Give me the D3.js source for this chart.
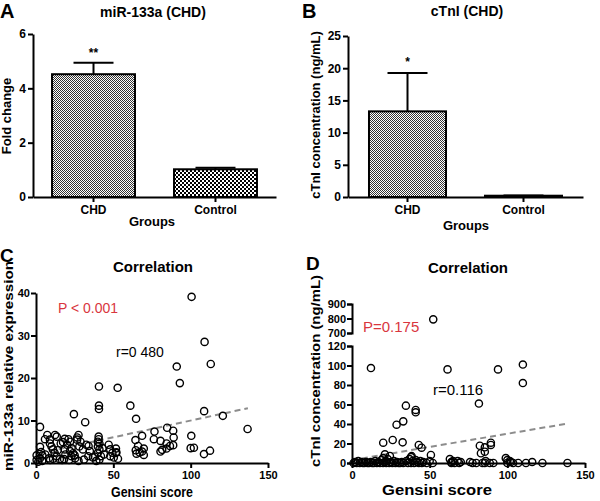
<!DOCTYPE html>
<html><head><meta charset="utf-8">
<script src="https://cdn.jsdelivr.net/npm/d3@7"></script>
<style>
body{margin:0;background:#fff;}
svg{display:block;font-family:"Liberation Sans",Arial,sans-serif;}
</style></head>
<body>
<script>
// ---------- DATA ----------
const groups = ["CHD", "Control"];
const foldChange = [4.52, 1.02];
const foldErr = [0.42, 0.06];
const foldSig = ["**", ""];
const ctni = [13.3, 0.2];
const ctniErr = [5.95, 0.05];
const ctniSig = ["*", ""];
const barTicksA = [0, 2, 4, 6];
const barTicksB = [0, 5, 10, 15, 20, 25];

const gensiniTicks = [0, 50, 100, 150];
const mirTicks = [0, 10, 20, 30, 40];
const ctniLowTicks = [0, 20, 40, 60, 80, 100, 120];
const ctniHighTicks = [700, 800, 900];

// miR-133a vs Gensini (x, y)
const mirGensini = [
[100.6,39.1],[109,28.5],[113,23.3],[91,22.7],[93,18.8],[40.7,18.0],[52.8,17.7],[61,13.5],[40.7,13.5],[40.7,12.7],
[24.5,11.5],[31.8,9.6],[64.7,10.4],[108.7,12.2],[120.8,11.1],[136.8,8.0],[2.6,8.5],
[84.8,8.3],[88.7,7.6],[76.6,7.4],[68.6,6.4],[89,6.0],[100.4,6.4],[76.2,5.6],[80.5,5.2],[84.4,4.6],[88.7,4.2],
[86.6,4.0],[84.4,3.4],[80.5,2.7],[81.6,3.1],[100,3.5],[102.1,3.6],[108.6,2.1],[112.5,2.9],[69.7,3.4],[68.6,2.7],
[69.7,1.9],[64.3,5.4],[64.5,3.0],[65,2.2],[66,4.0],[67,2.5],
[52,2.5],[51.7,3.4],[49.4,2.4],[48,1.6],[50.3,1.3],[47,4.3],[48,3.2],[51.6,2.4],[53,1.0],
[40.5,6.2],[40.5,5.6],[40,5.0],[41,4.6],[40,3.9],[41,3.2],[40,2.4],[42,1.6],[41,0.8],[38,1.5],[36.8,1.3],[43,3.5],[44,2.0],[39,0.5],
[27.5,6.6],[26.6,5.5],[28.8,5.0],[26.6,6.0],[28,3.9],[30.3,3.2],[32.5,4.3],[34.8,2.8],[33.8,1.6],[25.3,1.1],[27.5,0.5],[25,1.8],[31,0.8],[34,4.0],
[21,5.6],[22,5.0],[16,4.6],[20.1,4.3],[18.6,3.2],[22,2.8],[22.9,1.6],[18.6,5.7],[17.5,4.9],[15.4,0.9],[16.9,0.7],[18.2,0.9],[21.4,0.7],[23,3.5],[19,2.0],[24,2.3],
[5.8,5.6],[12.3,6.6],[13.4,6.2],[9,4.6],[10,3.9],[11,3.2],[12,2.4],[13.4,1.6],[7.3,6.6],[9,5.5],[8.4,1.1],[9.1,0.7],[14,3.0],[6,2.0],[11,1.0],
[2.6,3.8],[3.3,2.6],[4.1,1.8],[0.4,1.8],[0.4,0.7],[2.6,1.1],[1.5,0.3],[4,0.5]
];
const mirFit = [[2, 2.26], [137, 12.9]];

// cTnI vs Gensini (x, y)
const ctniGensini = [
[52.3,794],
[12.2,97.4],[61.5,96],[94,96],[110,101],[110,82],[81.7,61],[34.7,58.8],[41,54.4],[41,52],[33,42.7],[28.7,39.3],
[20.1,20.8],[26.2,23.6],[32.6,21.2],[43,18.5],[44.8,15.7],[21.2,8.9],[24.4,7.2],[38.4,7],[50.8,8.2],
[82.3,17.7],[85.5,16.1],[85.5,11.6],[89.4,20.8],[89.4,18.5],[83,10],
[1,0],[2,1],[3,0],[4,2],[5,0],[6,1],[7,0],[8,0],[9,1],[10,0],[11,0],[12,1],[13,0],[14,0],[15,2],[16,0],[17,1],[18,0],
[19,3],[20,0],[20,5],[21,1],[22,2],[22,0],[23,4],[24,0],[25,1],[26,0],[27,2],[28,0],[29,1],[30,0],[31,0],[32,1],[33,0],
[35,2],[36,0],[37,4],[38,6],[38,0],[39,2],[40,0],[41,3],[42,1],[43,0],[44,2],[45,0],[46,1],[48,0],[50,2],[52,0],
[63,4],[64,1],[64,0],[65,2],[66,0],[68,2],[69,0],[70,1],[76,1],[77.6,0],[80,0],[84,0],[85.5,0],[86,2],[88.7,0],[91,0],
[99,5],[100,3],[100,0],[101.6,2],[102.3,1],[103.7,0],[107,0],[112,0],[116,1],[122.6,0],[138.7,0]
];
const ctniFit = [[0, 3], [139, 40.5]];

// ---------- DRAW ----------
const svg = d3.select("body").append("svg").attr("width", 600).attr("height", 501);
const defs = svg.append("defs");
const fine = defs.append("pattern").attr("id","fine").attr("patternUnits","userSpaceOnUse").attr("width",2).attr("height",2);
fine.append("rect").attr("width",2).attr("height",2).attr("fill","#fff");
fine.append("rect").attr("width",1).attr("height",1).attr("fill","#333");
fine.append("rect").attr("x",1).attr("y",1).attr("width",1).attr("height",1).attr("fill","#333");
const coarse = defs.append("pattern").attr("id","coarse").attr("patternUnits","userSpaceOnUse").attr("width",4).attr("height",4);
coarse.append("rect").attr("width",4).attr("height",4).attr("fill","#fff");
coarse.append("rect").attr("width",2).attr("height",2).attr("fill","#000");
coarse.append("rect").attr("x",2).attr("y",2).attr("width",2).attr("height",2).attr("fill","#000");

function styleAxis(g, fs) {
  g.selectAll(".domain").attr("stroke", "#000").attr("stroke-width", 2);
  g.selectAll(".tick line").attr("stroke", "#000").attr("stroke-width", 2);
  g.selectAll(".tick text").attr("fill", "#000").attr("font-size", fs).attr("font-weight", "bold")
    .attr("font-family", '"Liberation Sans",Arial,sans-serif');
}
function txt(x, y, s, o = {}) {
  const t = svg.append("text").attr("x", x).attr("y", y).text(s)
    .attr("font-size", o.size || 13).attr("font-weight", o.weight || "bold")
    .attr("fill", o.fill || "#000").attr("text-anchor", o.anchor || "middle");
  if (o.rotate) t.attr("transform", `rotate(-90,${x},${y})`);
  if (o.len) t.attr("textLength", o.len).attr("lengthAdjust", "spacingAndGlyphs");
  return t;
}

function barPanel(cfg) {
  const x = d3.scaleBand().domain(groups).range(cfg.xr).paddingInner(cfg.pi).paddingOuter(cfg.po);
  const y = d3.scaleLinear().domain(cfg.yd).range([197, cfg.ytop]);
  const g = svg.append("g");
  groups.forEach((k, i) => {
    const cx = x(k) + x.bandwidth() / 2;
    g.append("line").attr("x1", cx).attr("x2", cx).attr("y1", y(cfg.vals[i])).attr("y2", y(cfg.vals[i] + cfg.errs[i]))
      .attr("stroke", "#000").attr("stroke-width", 2);
    g.append("line").attr("x1", cx - 20).attr("x2", cx + 20).attr("y1", y(cfg.vals[i] + cfg.errs[i])).attr("y2", y(cfg.vals[i] + cfg.errs[i]))
      .attr("stroke", "#000").attr("stroke-width", 2);
    if (cfg.sig[i]) {
      g.append("text").attr("x", cx).attr("y", y(cfg.vals[i] + cfg.errs[i]) - cfg.sigOff).text(cfg.sig[i])
        .attr("text-anchor", "middle").attr("font-size", 12).attr("font-weight", "bold");
    }
  });
  g.selectAll("rect.bar").data(cfg.vals).join("rect").attr("class", "bar")
    .attr("x", (d, i) => x(groups[i])).attr("width", x.bandwidth())
    .attr("y", d => y(d)).attr("height", d => 197 - y(d))
    .attr("fill", (d, i) => `url(#${cfg.pat[i]})`).attr("stroke", "#000").attr("stroke-width", 2);
  const ya = svg.append("g").attr("transform", `translate(${cfg.xr[0]},0)`)
    .call(d3.axisLeft(y).tickValues(cfg.ticks).tickSize(5).tickSizeOuter(0).tickPadding(2).tickFormat(d3.format("d")));
  styleAxis(ya, 12);
  const xa = svg.append("g").attr("transform", "translate(0,197)")
    .call(d3.axisBottom(x).tickSize(5).tickSizeOuter(0).tickPadding(3));
  styleAxis(xa, 12);
}

barPanel({xr: [33, 276], pi: 0.32, po: 0.156, yd: [0, 6], ytop: 34, vals: foldChange, errs: foldErr,
  sig: foldSig, sigOff: 6, pat: ["fine", "coarse"], ticks: barTicksA});
barPanel({xr: [348, 583], pi: 0.336, po: 0.181, yd: [0, 25], ytop: 36, vals: ctni, errs: ctniErr,
  sig: ctniSig, sigOff: 7, pat: ["fine", "fine"], ticks: barTicksB});

txt(0, 18, "A", {size: 20, anchor: "start"});
txt(153, 17, "miR-133a (CHD)", {size: 14});
txt(152, 226, "Groups", {size: 13});
txt(11, 116, "Fold change", {size: 13, rotate: true});

txt(302, 18, "B", {size: 20, anchor: "start"});
txt(467, 16, "cTnI (CHD)", {size: 14});
txt(466, 230, "Groups", {size: 13});
txt(320, 115, "cTnI concentration (ng/mL)", {size: 13, rotate: true});

// ---------- Panel C ----------
const xC = d3.scaleLinear().domain([0, 150]).range([36, 268]);
const yC = d3.scaleLinear().domain([0, 40]).range([463, 293]);
const gC = svg.append("g");
gC.append("line").attr("x1", xC(mirFit[0][0])).attr("y1", yC(mirFit[0][1])).attr("x2", xC(mirFit[1][0])).attr("y2", yC(mirFit[1][1]))
  .attr("stroke", "#8c8c8c").attr("stroke-width", 2).attr("stroke-dasharray", "6,4");
gC.selectAll("circle").data(mirGensini).join("circle")
  .attr("cx", d => xC(d[0])).attr("cy", d => yC(d[1])).attr("r", 3.6)
  .attr("fill", "none").attr("stroke", "#000").attr("stroke-width", 1.4);
const cya = svg.append("g").attr("transform", "translate(36,0)")
  .call(d3.axisLeft(yC).tickValues(mirTicks).tickSize(5).tickSizeOuter(0).tickPadding(1));
styleAxis(cya, 11);
const cxa = svg.append("g").attr("transform", "translate(0,463)")
  .call(d3.axisBottom(xC).tickValues(gensiniTicks).tickSize(5).tickSizeOuter(0).tickPadding(3));
styleAxis(cxa, 11);
txt(0, 262, "C", {size: 19, anchor: "start"});
txt(153, 272, "Correlation", {size: 15});
txt(58, 313, "P < 0.001", {size: 14, weight: "normal", fill: "#d9363e", anchor: "start"});
txt(116, 357, "r=0 480", {size: 14, weight: "normal", anchor: "start"});
txt(152, 497, "Gensini score", {size: 14, len: 82});
txt(13, 366, "miR-133a relative expression", {size: 12, rotate: true, len: 210});

// ---------- Panel D ----------
const xD = d3.scaleLinear().domain([0, 150]).range([352, 585]);
const yDl = d3.scaleLinear().domain([0, 120]).range([463, 346]);
const yDu = d3.scaleLinear().domain([700, 900]).range([333, 304]);
const yD = v => v >= 700 ? yDu(v) : yDl(v);
const gD = svg.append("g");
gD.append("line").attr("x1", xD(ctniFit[0][0])).attr("y1", yDl(ctniFit[0][1])).attr("x2", xD(ctniFit[1][0])).attr("y2", yDl(ctniFit[1][1]))
  .attr("stroke", "#8c8c8c").attr("stroke-width", 2).attr("stroke-dasharray", "6,4");
gD.selectAll("circle").data(ctniGensini).join("circle")
  .attr("cx", d => xD(d[0])).attr("cy", d => yD(d[1])).attr("r", 3.6)
  .attr("fill", "none").attr("stroke", "#000").attr("stroke-width", 1.4);
const dyl = svg.append("g").attr("transform", "translate(352,0)")
  .call(d3.axisLeft(yDl).tickValues(ctniLowTicks).tickSize(5).tickSizeOuter(5).tickPadding(1));
styleAxis(dyl, 11);
const dyu = svg.append("g").attr("transform", "translate(352,0)")
  .call(d3.axisLeft(yDu).tickValues(ctniHighTicks).tickSize(5).tickSizeOuter(5).tickPadding(1));
styleAxis(dyu, 11);
const dxa = svg.append("g").attr("transform", "translate(0,463)")
  .call(d3.axisBottom(xD).tickValues(gensiniTicks).tickSize(5).tickSizeOuter(0).tickPadding(3));
styleAxis(dxa, 11);
txt(306, 270, "D", {size: 19, anchor: "start"});
txt(468, 273, "Correlation", {size: 15});
txt(363, 332, "P=0.175", {size: 15, weight: "normal", fill: "#d9363e", anchor: "start"});
txt(433, 395, "r=0.116", {size: 15, weight: "normal", anchor: "start"});
txt(437, 495, "Gensini score", {size: 14, len: 110});
txt(320, 371, "cTnI concentration (ng/mL)", {size: 13, rotate: true, len: 192});
</script>
</body></html>
